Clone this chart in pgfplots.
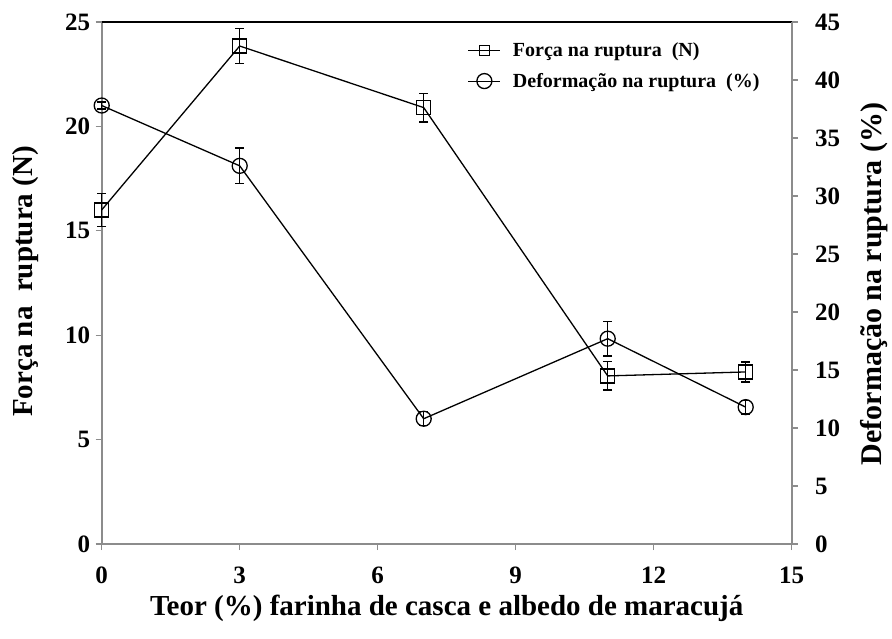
\documentclass[border=0pt]{standalone}
\usepackage{fontspec}
\setmainfont{Liberation Serif}
\usepackage{pgfplots}
\pgfplotsset{compat=1.18}
\definecolor{spine}{HTML}{8C8C8C}
\begin{document}
\begin{tikzpicture}
\pgfplotsset{
  common/.style={
    scale only axis, width=690pt, height=522pt,
    xmin=0, xmax=15,
    clip=false,
    /pgf/number format/assume math mode=true,
    tick align=outside,
    major tick length=6pt,
    tick style={draw=spine, line width=1.2pt},
    axis line style={-, draw=spine, line width=1.8pt},
    tick label style={font=\fontsize{25}{28}\selectfont\bfseries},
    label style={font=\fontsize{29}{33}\selectfont\bfseries},
  },
  mystyle/.style={black, line width=1.3pt, mark options={solid, fill=white, line width=1.3pt},
    error bars/y dir=both, error bars/y explicit,
    error bars/error bar style={black, line width=1.3pt},
    error bars/error mark options={rotate=90, mark size=4.5pt, line width=1.3pt}},
}
\begin{axis}[common, name=ax,
  ymin=0, ymax=25,
  xtick={0,3,6,9,12,15}, xticklabels={\textbf{0},\textbf{3},\textbf{6},\textbf{9},\textbf{12},\textbf{15}},
  ytick={0,5,10,15,20,25}, yticklabels={\textbf{0},\textbf{5},\textbf{10},\textbf{15},\textbf{20},\textbf{25}},
  axis x line*=bottom, axis y line*=left,
  xticklabel style={yshift=-13pt},
  yticklabel style={xshift=-2pt},
  xlabel={Teor (\%) farinha de casca e albedo de maracujá},
  ylabel={Força na \ ruptura (N)},
  xlabel style={at={(axis description cs:0.5,-0.1226)}, anchor=center},
  ylabel style={at={(axis description cs:-0.1097,0.503)}, anchor=center},
]
\addplot+[mystyle, mark=square, mark size=7pt] coordinates {
  (0,16.0) +- (0,0.80)
  (3,23.85) +- (0,0.85)
  (7,20.9) +- (0,0.69)
  (11,8.05) +- (0,0.68)
  (14,8.24) +- (0,0.48)
};
\draw[black, line width=1.3pt] (rel axis cs:0,1) -- (rel axis cs:1,1);
\end{axis}
\begin{axis}[common,
  ymin=0, ymax=45,
  ytick={0,5,10,15,20,25,30,35,40,45},
  yticklabels={\textbf{0},\textbf{5},\textbf{10},\textbf{15},\textbf{20},\textbf{25},\textbf{30},\textbf{35},\textbf{40},\textbf{45}},
  axis y line*=right, axis x line=none,
  yticklabel style={xshift=14pt},
  ylabel={Deformação na ruptura (\%)},
  ylabel style={at={(axis description cs:1.119,0.498)}, anchor=center, font=\fontsize{30}{34}\selectfont\bfseries},
  legend style={draw=none, fill=none, at={(0.526,0.968)}, anchor=north west,
    font=\fontsize{20}{24}\selectfont\bfseries, row sep=11pt,
    /tikz/every odd column/.append style={column sep=10pt}},
  legend cell align=left,
  legend image code/.code={
    \draw[#1, mark=none, line width=1.1pt] (0pt,0pt) -- (32pt,0pt);
    \draw[#1, line width=1.1pt] plot coordinates {(16pt,0pt)};
  },
]
\addlegendimage{black, mark=square, mark size=5pt, mark options={solid, fill=white}}
\addlegendentry{Força na ruptura \ (N)}
\addplot+[mystyle, mark=o, mark size=7.5pt] coordinates {
  (0,37.8) +- (0,0.3)
  (3,32.6) +- (0,1.55)
  (7,10.8) +- (0,0.6)
  (11,17.7) +- (0,1.5)
  (14,11.8) +- (0,0.58)
};
\addlegendentry{Deformação na ruptura \ (\%)}
\end{axis}
\pgfresetboundingbox
\path (ax.south west) ++(-101.7pt,-94pt) rectangle ++(892pt,638pt);
\end{tikzpicture}
\end{document}
